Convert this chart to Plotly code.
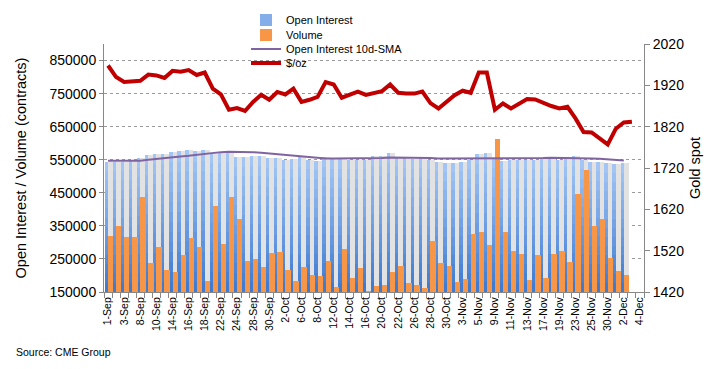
import plotly.graph_objects as go

# Trading days (category axis)
sep = [1, 2, 3, 4, 8, 9, 10, 11, 14, 15, 16, 17, 18, 21, 22, 23, 24, 25, 28, 29, 30]
octo = [1, 2, 5, 6, 7, 8, 9, 12, 13, 14, 15, 16, 19, 20, 21, 22, 23, 26, 27, 28, 29, 30]
nov = [2, 3, 4, 5, 6, 9, 10, 11, 12, 13, 16, 17, 18, 19, 20, 23, 24, 25, 27, 30]
dec = [1, 2, 3, 4]
dates = ([f"{d}-Sep" for d in sep] + [f"{d}-Oct" for d in octo] +
         [f"{d}-Nov" for d in nov] + [f"{d}-Dec" for d in dec])

open_interest = [544, 544, 544, 546, 554, 563, 566, 566, 572, 575, 578, 575, 578, 569, 571, 572,
                 558, 558, 561, 561, 555, 555, 549,
                 552, 557, 549, 547, 557, 552, 552, 549, 549, 549, 561, 561, 569, 559, 554, 552,
                 554, 549, 543, 541, 541, 544,
                 549, 567, 569, 554, 547, 549, 549, 549, 549, 552, 554, 549, 557, 560, 549, 543,
                 543, 539, 537, 539]
volume = [320, 350, 316, 316, 438, 238, 287, 217, 211, 263, 314, 287, 184, 411, 296, 437, 372,
          245, 251, 227, 267, 270,
          217, 184, 225, 201, 199, 245, 166, 281, 193, 224, 152, 169, 172, 211, 230, 178, 171,
          163, 305, 239, 230, 181, 190,
          326, 332, 293, 613, 332, 273, 266, 187, 263, 193, 266, 273, 242, 445, 520, 350, 372,
          254, 215, 200]
oi_sma = [547, 547, 547, 547, 547, 550, 553, 556, 558, 560, 562, 565, 567, 570, 573, 574, 574,
          574, 573, 571, 569, 565, 563,
          561, 559, 557, 555, 554, 554, 554, 554, 554, 554, 554, 555, 557, 557, 556, 556, 556,
          555, 554, 554, 554, 554,
          553, 553, 553, 553, 553, 553, 553, 553, 554, 555, 556, 556, 555, 555, 555, 554, 553,
          552, 550, 548]
gold = [1968, 1940, 1928, 1930, 1931, 1946, 1944, 1938, 1955, 1953, 1957, 1945, 1951, 1912, 1898,
        1861, 1865, 1858, 1880, 1897, 1885, 1904, 1898,
        1912, 1880, 1885, 1892, 1928, 1922, 1890, 1898, 1905, 1897, 1901, 1906, 1922, 1902, 1900,
        1900, 1905, 1877, 1864, 1880, 1896, 1907,
        1902, 1951, 1951, 1861, 1876, 1864, 1876, 1887, 1886, 1877, 1870, 1864, 1868, 1840, 1807,
        1806, 1790, 1777, 1815, 1830, 1832]

oi = [v * 1000 for v in open_interest]
vol = [v * 1000 for v in volume]
sma = [v * 1000 for v in oi_sma]
n_bar = len(oi)
xb = dates[:n_bar]

FONT = "Liberation Sans, Arial, sans-serif"
BASE = 150000
H = 248.0  # plot height in px (for placing legends)


def py(px):
    return (292 - px) / H


fig = go.Figure()

# light "side" stripe of the open-interest bars
fig.add_trace(go.Bar(x=xb, y=oi, offset=0.0, width=0.59, marker=dict(color="#e2e2e2", line_width=0),
                     showlegend=False, hoverinfo="skip"))

# open interest bars with a vertical gradient (overlaid bands)
N = 14
top = (166, 200, 247)
bot = (58, 120, 208)
for k in range(N):
    frac_h = (N - k) / N
    frac_c = (N - k - 0.5) / N
    col = tuple(int(round(bot[j] + (top[j] - bot[j]) * frac_c)) for j in range(3))
    fig.add_trace(go.Bar(
        x=xb, y=[BASE + (v - BASE) * frac_h for v in oi], offset=-0.41, width=0.41,
        marker=dict(color=f"rgb{col}", line_width=0),
        name="Open Interest", showlegend=(k == 4), legend="legend", hoverinfo="skip"))

fig.add_trace(go.Bar(x=xb, y=vol, offset=0.0, width=0.66, name="Volume",
                     marker=dict(color="#f79646", line_width=0), legend="legend2"))

fig.add_trace(go.Scatter(x=xb, y=sma, mode="lines", name="Open Interest 10d-SMA",
                         line=dict(color="#8064a2", width=2), legend="legend3"))

fig.add_trace(go.Scatter(x=dates[:len(gold)], y=gold, mode="lines", name="$/oz", yaxis="y2",
                         line=dict(color="#c00000", width=4), legend="legend4"))

ticktext = [d if i % 2 == 0 else "" for i, d in enumerate(dates)]

leg_common = dict(x=0.263, xanchor="left", yanchor="middle", bgcolor="rgba(0,0,0,0)",
                  font=dict(size=11, family=FONT, color="black"))

fig.update_layout(
    width=721, height=369,
    margin=dict(l=104, r=77, t=44, b=77, autoexpand=False),
    paper_bgcolor="white", plot_bgcolor="white",
    barmode="overlay", bargap=0,
    font=dict(family=FONT, color="black"),
    showlegend=True,
    legend=dict(y=py(20), **leg_common),
    legend2=dict(y=py(35), **leg_common),
    legend3=dict(y=py(49), **leg_common),
    legend4=dict(y=py(63), **leg_common),
    xaxis=dict(type="category", categoryorder="array", categoryarray=dates,
               range=[-0.5, len(dates) - 0.5],
               tickmode="array", tickvals=dates, ticktext=ticktext, tickangle=-90,
               tickson="boundaries", ticks="outside", ticklen=5, tickcolor="#888888",
               tickfont=dict(size=10.5, family=FONT),
               showline=True, linecolor="#888888", linewidth=1, showgrid=False, zeroline=False),
    yaxis=dict(range=[150000, 900000], tickvals=list(range(150000, 900000, 100000)),
               ticktext=[str(v) for v in range(150000, 900000, 100000)],
               ticks="outside", ticklen=4, tickcolor="#888888",
               showline=True, linecolor="#888888", linewidth=1,
               showgrid=True, gridcolor="#9a9a9a", griddash="dot", gridwidth=1, zeroline=False,
               tickfont=dict(size=14, family=FONT),
               title=dict(text="Open Interest / Volume (contracts)", standoff=19,
                          font=dict(size=14.5, family=FONT))),
    yaxis2=dict(overlaying="y", side="right", range=[1420, 2020], dtick=100, tick0=1420,
                ticks="outside", ticklen=5, tickcolor="#888888",
                showline=True, linecolor="#888888", linewidth=1, showgrid=False, zeroline=False,
                tickfont=dict(size=14, family=FONT),
                title=dict(text="Gold spot", standoff=6, font=dict(size=14.5, family=FONT))),
    shapes=[dict(type="rect", xref="paper", yref="paper", x0=0.246, x1=0.591,
                 y0=py(72), y1=1.0, fillcolor="white", line_width=0, layer="between")],
    annotations=[dict(text="Source: CME Group", xref="paper", yref="paper",
                      x=-0.167, y=py(352), xanchor="left", yanchor="middle", showarrow=False,
                      font=dict(size=10.5, family=FONT, color="black"))],
)

fig.write_html("out.html", config={"displayModeBar": False},
               post_script="document.body.style.margin='0px';")
